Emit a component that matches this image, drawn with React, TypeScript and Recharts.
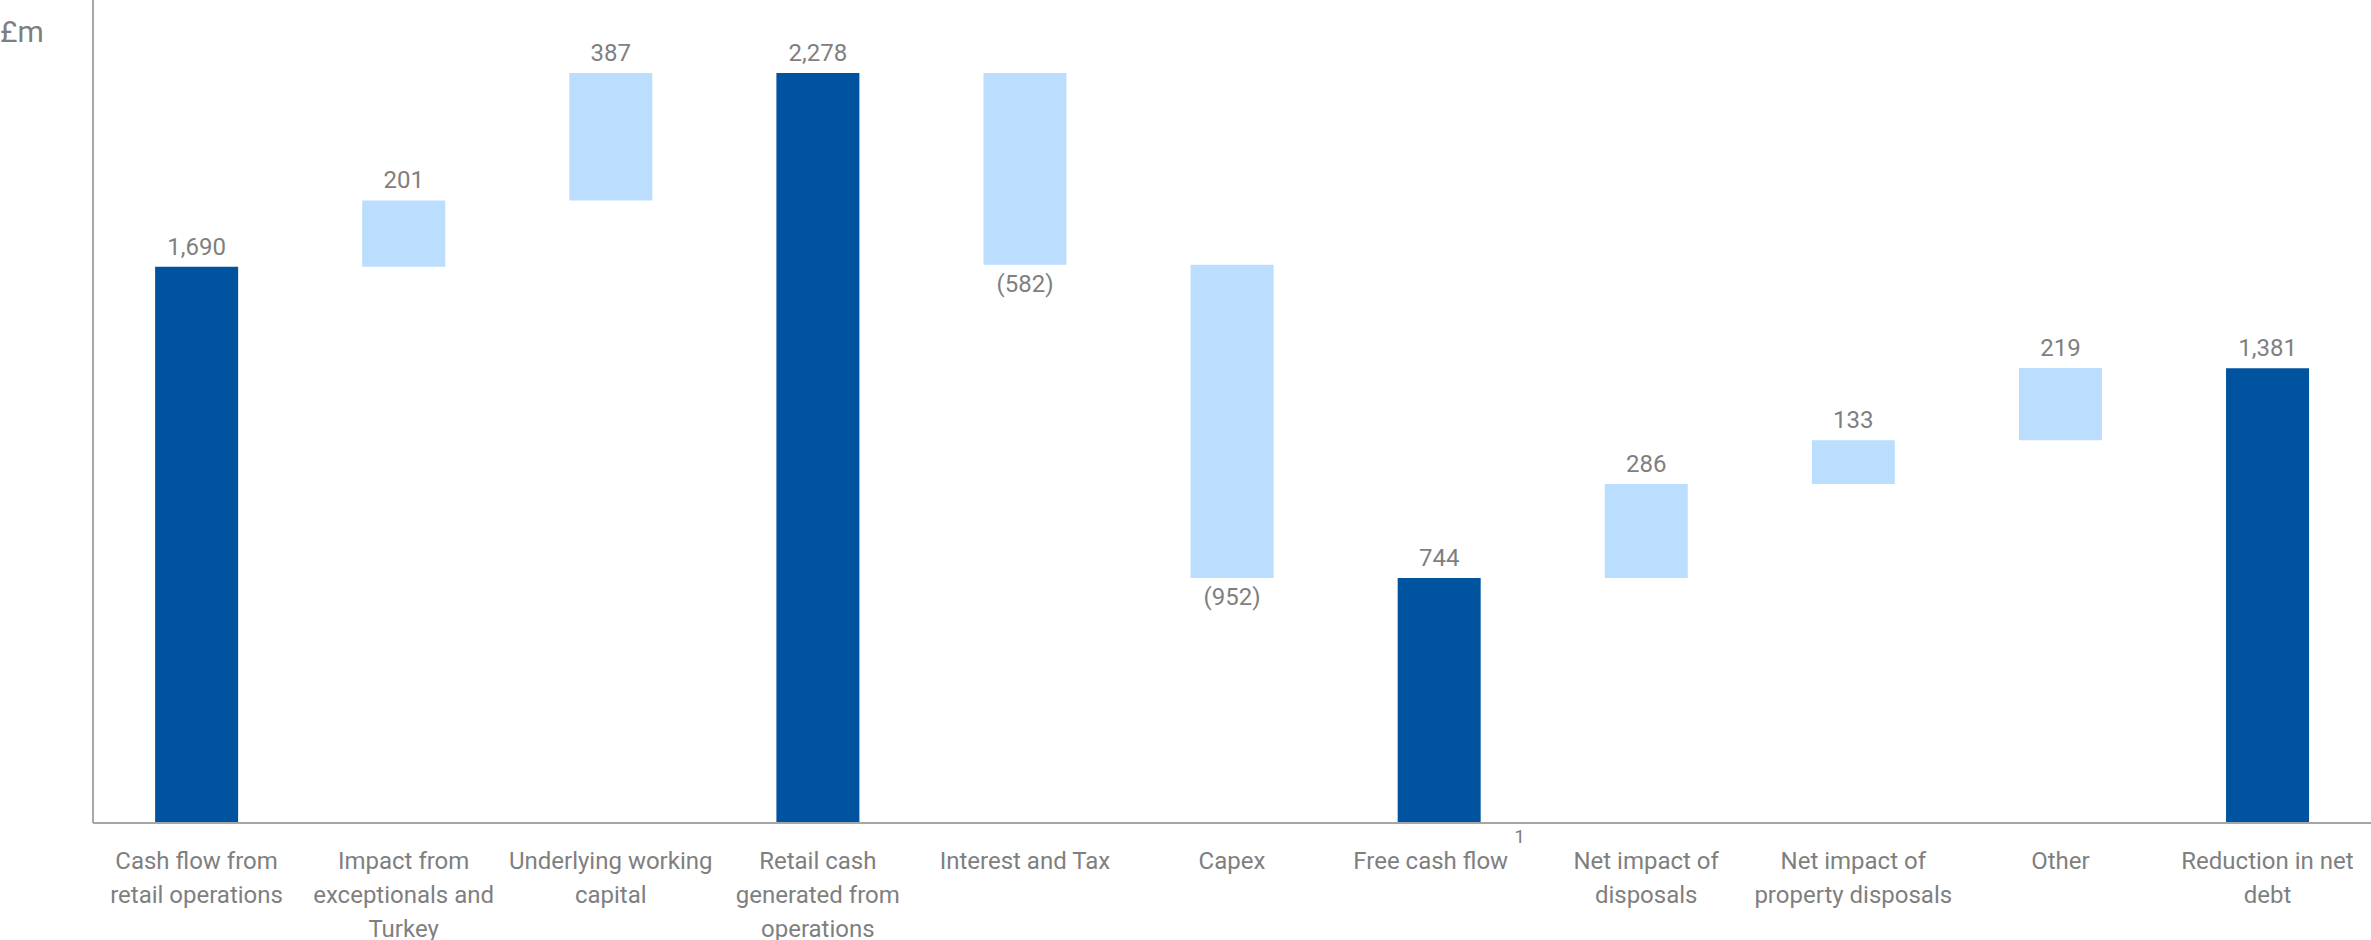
import { BarChart, Bar, XAxis, YAxis, Cell, LabelList } from "recharts";

const categories = [
  "Cash flow from\nretail operations",
  "Impact from\nexceptionals and\nTurkey",
  "Underlying working\ncapital",
  "Retail cash\ngenerated from\noperations",
  "Interest and Tax",
  "Capex",
  "Free cash flow",
  "Net impact of\ndisposals",
  "Net impact of\nproperty disposals",
  "Other",
  "Reduction in net\ndebt",
];
const amounts = [1690, 201, 387, 2278, -582, -952, 744, 286, 133, 219, 1381];
const isTotal = [true, false, false, true, false, false, true, false, false, false, true];
const footnotes = ["", "", "", "", "", "", "1", "", "", "", ""];

const DARK = "#00539f";
const LIGHT = "#bbddfe";
const GREY = "#7f7f7f";
const FONT = "Roboto, sans-serif";

// build the waterfall: invisible base + visible step
let running = 0;
const data = categories.map((name, i) => {
  const amt = amounts[i];
  let base = 0;
  if (isTotal[i]) {
    running = amt;
  } else if (amt >= 0) {
    base = running;
    running += amt;
  } else {
    running += amt;
    base = running;
  }
  return { name, base, step: Math.abs(amt), amt, idx: i };
});

const fmt = (v: number) => {
  const s = Math.abs(v).toLocaleString("en-GB");
  return v < 0 ? `(${s})` : s;
};

const ValueLabel = (props: any) => {
  const { x, y, width, height, index } = props;
  const amt = amounts[index];
  const cx = x + width / 2;
  const ty = amt < 0 ? y + height + 27 : y - 12;
  return (
    <text x={cx} y={ty} textAnchor="middle" fill={GREY} fontSize={24} fontFamily={FONT}>
      {fmt(amt)}
    </text>
  );
};

const CategoryTick = (props: any) => {
  const { x, y, payload, index } = props;
  const lines = String(payload.value).split("\n");
  const note = footnotes[index];
  return (
    <text x={x} y={y} textAnchor="middle" fill={GREY} fontSize={24} fontFamily={FONT}>
      {lines.map((line, i) => (
        <tspan key={i} x={x} y={y + 38 + i * 34}>
          {line}
          {note && i === lines.length - 1 ? (
            <tspan dx={6} dy={-26} fontSize={19}>
              {note}
            </tspan>
          ) : null}
        </tspan>
      ))}
    </text>
  );
};

export default function App() {
  return (
    <div style={{ position: "absolute", left: 0, top: 0, width: 2371, height: 940, background: "#fff" }}>
      <div
        style={{
          position: "absolute",
          left: 0,
          top: 14,
          fontFamily: FONT,
          fontSize: 30,
          color: GREY,
          lineHeight: "36px",
        }}
      >
        £m
      </div>
      <BarChart
        width={2371}
        height={940}
        data={data}
        margin={{ top: 0, right: 0, bottom: 0, left: 0 }}
        barCategoryGap="30%"
      >
        <XAxis
          dataKey="name"
          height={117}
          interval={0}
          tickLine={false}
          axisLine={{ stroke: "#a6a6a6", strokeWidth: 2 }}
          tick={<CategoryTick />}
        />
        <YAxis
          width={93}
          domain={[0, 2500]}
          tick={false}
          tickLine={false}
          axisLine={{ stroke: "#a6a6a6", strokeWidth: 2 }}
        />
        <Bar dataKey="base" stackId="w" fill="transparent" isAnimationActive={false} />
        <Bar dataKey="step" stackId="w" isAnimationActive={false}>
          {data.map((d, i) => (
            <Cell key={i} fill={isTotal[i] ? DARK : LIGHT} />
          ))}
          <LabelList dataKey="step" content={<ValueLabel />} />
        </Bar>
      </BarChart>
    </div>
  );
}
